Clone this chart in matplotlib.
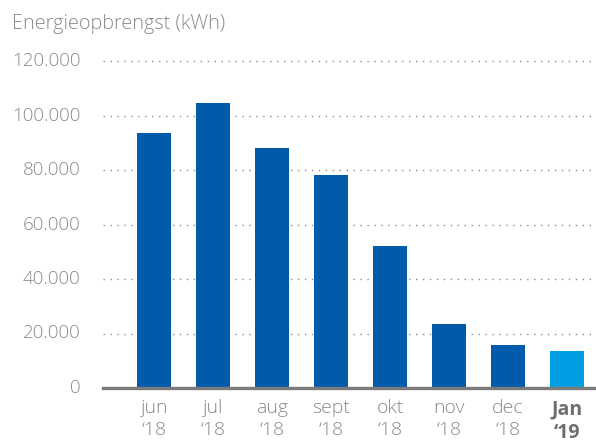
import matplotlib
matplotlib.use("Agg")
import matplotlib.pyplot as plt
import numpy as np

categories = ["jun\n\u201818", "jul\n\u201818", "aug\n\u201818", "sept\n\u201818",
              "okt\n\u201818", "nov\n\u201818", "dec\n\u201818", "Jan\n\u201819"]
values = [93400, 104700, 88000, 78100, 52000, 23600, 15600, 13400]
yticks = [0, 20000, 40000, 60000, 80000, 100000, 120000]
ytick_labels = ["0", "20.000", "40.000", "60.000", "80.000", "100.000", "120.000"]
title = "Energieopbrengst (kWh)"

plt.rcParams['font.family'] = ['Open Sans', 'DejaVu Sans']

fig = plt.figure(figsize=(5.96, 4.43), dpi=100)
W, H = 596, 443
left, right = 103 / W, 596 / W
bottom, top = (H - 388) / H, (H - 58) / H
ax = fig.add_axes([left, bottom, right - left, top - bottom])

x = np.arange(len(values))
colors = ["#005BAA"] * (len(values) - 1) + ["#009FE3"]
ax.bar(x, values, width=0.58, color=colors, zorder=3)

ymax = 120000 * (388 - 58) / (388 - 61)
ax.set_ylim(0, ymax)
ax.set_xlim(-0.87, len(values) - 1 + 0.49)

for t in yticks[1:]:
    ax.axhline(t, color="#8c8c8c", linewidth=1.0, linestyle=(0, (1, 4)), zorder=1)

for s in ["top", "right", "left"]:
    ax.spines[s].set_visible(False)
ax.spines["bottom"].set_color("#7a7a7a")
ax.spines["bottom"].set_linewidth(2.4)
ax.spines["bottom"].set_zorder(4)

ax.set_yticks(yticks)
ax.set_yticklabels(ytick_labels)
ax.tick_params(axis="y", length=0, pad=16, labelsize=13.5, labelcolor="#8a8a8a")
for lbl in ax.get_yticklabels():
    lbl.set_verticalalignment("center")
    lbl.set_fontweight("light")

ax.set_xticks(x)
ax.set_xticklabels(categories, linespacing=1.25)
ax.tick_params(axis="x", length=0, pad=8, labelsize=14, labelcolor="#8a8a8a")
for i, lbl in enumerate(ax.get_xticklabels()):
    lbl.set_fontweight("light")
    if i == len(values) - 1:
        lbl.set_fontweight("bold")
        lbl.set_color("#6e6e6e")

fig.text(12 / W, 1 - 24 / H, title, fontsize=14.3, color="#8a8a8a",
         fontweight="light", ha="left", va="center")

fig.savefig("out.png", dpi=100)
